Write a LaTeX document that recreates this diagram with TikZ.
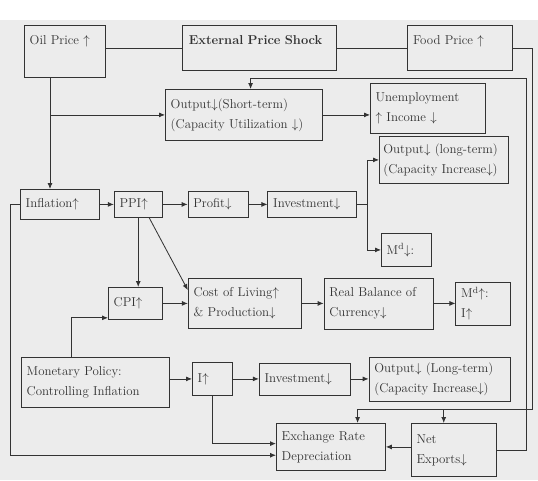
\documentclass[tikz,border=0pt]{standalone}
\usepackage{amsmath,amssymb}
\usepackage{xcolor}
\definecolor{papel}{gray}{.925}
\definecolor{tinta}{gray}{.2}
\usepackage{tikz}
\usetikzlibrary{positioning,arrows.meta,calc}

\begin{document}
\begin{tikzpicture}[
    x=0.3mm, y=-0.3mm,
    font=\fontsize{11}{17}\selectfont,
    caja/.style={rectangle, draw=tinta, line width=0.7pt, fill=papel, text=tinta,
      align=left, inner xsep=1.6mm, inner ysep=1mm},
    cabeza/.style={caja, text height=4.7mm},
    linea/.style={draw=tinta, line width=0.7pt},
    >={Latex[length=1.8mm,width=1.5mm]}
  ]
    \fill[papel] (0,20) rectangle (538,480);
    \useasboundingbox (0,0) rectangle (538,480);

    % fila superior
    \node[cabeza, text width=21.1mm, text depth=8.9mm, anchor=north west] (oil) at (24,25) {Oil Price $\uparrow$};
    \node[cabeza, text width=42.4mm, text depth=6.8mm, inner xsep=2mm, right=22.8mm of oil.north east, anchor=north west] (shock) {\textbf{External Price Shock}};
    \node[cabeza, text width=28.3mm, text depth=6.8mm, right=21mm of shock.north east, anchor=north west] (food) {Food Price $\uparrow$};

    \node[caja, text width=43.9mm, minimum height=15.3mm, anchor=north west] (outs) at (165,89) {Output$\downarrow$(Short-term)\\(Capacity Utilization $\downarrow$)};
    \node[caja, text width=31.3mm, minimum height=15mm, anchor=north west] (unemp) at (370,83) {Unemployment\\$\uparrow$ Income $\downarrow$};
    \node[caja, text width=36.3mm, inner xsep=1.2mm, minimum height=14.1mm, anchor=north west] (outl) at (379,136) {Output$\downarrow$ (long-term)\\(Capacity Increase$\downarrow$)};

    % cadena de precios
    \node[caja, text width=20.5mm, minimum height=9mm, anchor=north west] (infl) at (20,189) {Inflation$\uparrow$};
    \node[caja, text width=11.2mm, minimum height=7.8mm, right=4.2mm of infl] (ppi) {PPI$\uparrow$};
    \node[caja, text width=14.8mm, minimum height=7.8mm, right=7.5mm of ppi] (profit) {Profit$\downarrow$};
    \node[caja, text width=23.5mm, minimum height=7.8mm, right=5.7mm of profit] (inv) {Investment$\downarrow$};
    \node[caja, text width=11.8mm, minimum height=9.9mm, anchor=north west] (mdd) at (381,233) {M\textsuperscript{d}$\downarrow$:};

    \node[caja, text width=13mm, minimum height=9.6mm, anchor=north west] (cpi) at (108,287) {CPI$\uparrow$};
    \node[caja, text width=30.7mm, minimum height=15mm, right=7.5mm of cpi] (col) {Cost of Living$\uparrow$\\\& Production$\downarrow$};
    \node[caja, text width=29.5mm, minimum height=15.3mm, right=6.6mm of col] (rbc) {Real Balance of\\Currency$\downarrow$};
    \node[caja, text width=13.3mm, minimum height=12.9mm, right=6.6mm of rbc] (mdu) {M\textsuperscript{d}$\uparrow$:\\I$\uparrow$};

    % politica monetaria
    \node[caja, text width=41.2mm, minimum height=15mm, anchor=north west] (mon) at (21,357) {Monetary Policy:\\Controlling Inflation};
    \node[caja, text width=8.8mm, minimum height=9.9mm, anchor=north west] (irate) at (192,362) {I$\uparrow$};
    \node[caja, text width=24.1mm, minimum height=9.6mm, right=7.8mm of irate] (inv2) {Investment$\downarrow$};
    \node[caja, text width=39.1mm, minimum height=13.2mm, right=5.4mm of inv2] (outl2) {Output$\downarrow$ (Long-term)\\(Capacity Increase$\downarrow$)};

    \node[caja, text width=29.5mm, minimum height=14.1mm, anchor=north west] (exch) at (276,423) {Exchange Rate\\Depreciation};
    \node[caja, text width=22.3mm, minimum height=15.9mm, right=7.5mm of exch.north east, anchor=north west] (netx) {Net\\Exports$\downarrow$};

    % conexiones
    \draw[linea] (shock.west) -- (shock.west -| oil.east);
    \draw[linea] (shock.east) -- (food.west);
    \coordinate (oilx) at ($(oil.south west)+(7.8mm,0)$);
    \draw[linea,->] (oilx) -- (oilx |- infl.north);
    \draw[linea,->] (oilx |- outs.west) -- (outs.west);
    \draw[linea,->] (outs.east) -- (outs.east -| unemp.west);

    \draw[linea,->] (infl) -- (ppi);
    \draw[linea,->] (ppi) -- (profit);
    \draw[linea,->] (profit) -- (inv);
    \coordinate (ibr) at ($(inv.east)+(3mm,0)$);
    \draw[linea] (inv.east) -- (ibr);
    \draw[linea,->] (ibr) |- (outl.west);
    \draw[linea,->] (ibr) |- (mdd.west);

    \draw[linea,->] (ppi.south) -- (ppi.south |- cpi.north);
    \draw[linea,->] ($(ppi.south)+(3.3mm,0)$) -- ($(col.west)+(0,4mm)$);
    \draw[linea,->] (cpi) -- (col);
    \draw[linea,->] (col) -- (rbc);
    \draw[linea,->] (rbc.east) -- (rbc.east -| mdu.west);

    \coordinate (mup) at ($(mon.north west)+(15mm,0)$);
    \draw[linea,->] (mup) |- ($(cpi.south west)+(0,0.6mm)$);
    \draw[linea,->] (mon.east |- irate.west) -- (irate.west);
    \draw[linea,->] (irate) -- (inv2);
    \draw[linea,->] (inv2) -- (outl2);
    \draw[linea,->] (irate.south) |- ($(exch.west)+(0,1mm)$);
    \draw[linea,->] (infl.west) -- ++(-3mm,0) |- ($(exch.west)+(0,-2.5mm)$);
    \draw[linea,->] (netx.west |- exch.east) -- (exch.east);

    % shocks externos y retorno
    \coordinate (fdrop) at (532,409);
    \coordinate (exin) at ($(exch.north)+(8mm,0)$);
    \coordinate (nxin) at ($(netx.north)+(-3mm,0)$);
    \draw[linea,->] (food.east) -| (fdrop) -| (exin);
    \draw[linea,->] (nxin |- fdrop) -- (nxin);
    \coordinate (loopr) at (526,78);
    \draw[linea,->] (netx.east) -| (loopr) -| ($(outs.north)+(2mm,0)$);
  \end{tikzpicture}
\end{document}
